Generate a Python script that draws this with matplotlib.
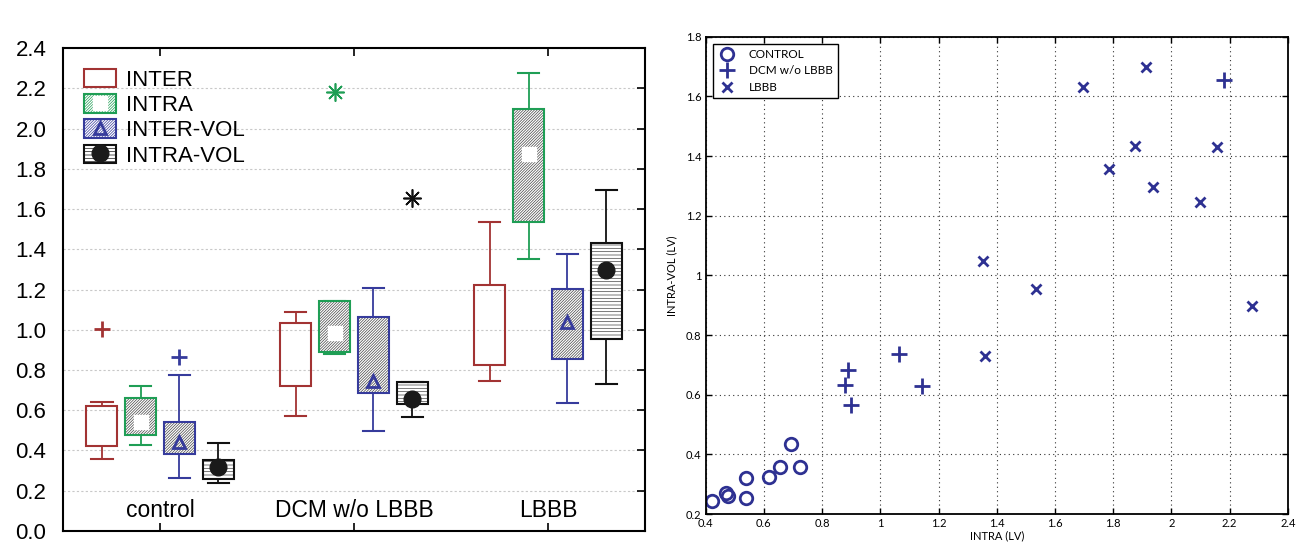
import matplotlib
matplotlib.use("Agg")
import matplotlib.pyplot as plt
from matplotlib.patches import Patch
from matplotlib.lines import Line2D

# ---- left panel data: box plot statistics ----
groups = ["control", "DCM w/o LBBB", "LBBB"]
series = ["INTER", "INTRA", "INTER-VOL", "INTRA-VOL"]

whislo = {
    "INTER":     [0.356, 0.573, 0.744],
    "INTRA":     [0.426, 0.880, 1.352],
    "INTER-VOL": [0.262, 0.497, 0.635],
    "INTRA-VOL": [0.240, 0.568, 0.732],
}
q1 = {
    "INTER":     [0.424, 0.720, 0.827],
    "INTRA":     [0.476, 0.888, 1.534],
    "INTER-VOL": [0.383, 0.686, 0.853],
    "INTRA-VOL": [0.260, 0.630, 0.953],
}
q3 = {
    "INTER":     [0.623, 1.032, 1.221],
    "INTRA":     [0.659, 1.145, 2.095],
    "INTER-VOL": [0.543, 1.065, 1.201],
    "INTRA-VOL": [0.354, 0.739, 1.433],
}
whishi = {
    "INTER":     [0.640, 1.087, 1.537],
    "INTRA":     [0.722, 1.145, 2.276],
    "INTER-VOL": [0.777, 1.207, 1.375],
    "INTRA-VOL": [0.436, 0.739, 1.694],
}
means = {
    "INTER":     [None, None, None],
    "INTRA":     [0.540, 0.984, 1.875],
    "INTER-VOL": [0.444, 0.745, 1.040],
    "INTRA-VOL": [0.320, 0.654, 1.295],
}
outliers = {
    "INTER":     [[1.004], [], []],
    "INTRA":     [[], [2.180], []],
    "INTER-VOL": [[0.866], [], []],
    "INTRA-VOL": [[], [1.653], []],
}

# ---- right panel data ----
control_x = [0.421, 0.470, 0.477, 0.540, 0.540, 0.618, 0.657, 0.692, 0.723]
control_y = [0.243, 0.271, 0.261, 0.322, 0.254, 0.323, 0.357, 0.436, 0.359]
dcm_x = [0.888, 0.879, 0.901, 1.066, 1.144, 2.182]
dcm_y = [0.684, 0.632, 0.567, 0.738, 0.629, 1.656]
lbbb_x = [1.914, 1.695, 1.874, 2.157, 1.784, 1.938, 2.097, 1.536, 2.277, 1.353, 1.361]
lbbb_y = [1.697, 1.630, 1.435, 1.430, 1.356, 1.297, 1.246, 0.953, 0.897, 1.047, 0.730]

colors = {"INTER": "#a23333", "INTRA": "#1f9e55", "INTER-VOL": "#363b9c", "INTRA-VOL": "#111111"}
hatches = {"INTER": None, "INTRA": "////////////", "INTER-VOL": "////////////", "INTRA-VOL": "-----"}
mean_style = {
    "INTER": None,
    "INTRA": dict(marker="s", markersize=10, markerfacecolor="white", markeredgecolor="white"),
    "INTER-VOL": dict(marker="^", markersize=9, markerfacecolor="none",
                      markeredgecolor="#363b9c", markeredgewidth=2),
    "INTRA-VOL": dict(marker="o", markersize=12, markerfacecolor="#1a1a1a", markeredgecolor="#1a1a1a"),
}
scatter_color = "#2e3192"

plt.rcParams["hatch.linewidth"] = 0.5
plt.rcParams["font.family"] = ["Liberation Sans", "DejaVu Sans"]

fig = plt.figure(figsize=(12.97, 5.46), dpi=100)
ax = fig.add_axes([0.0486, 0.0275, 0.4487, 0.8845])
ax2 = fig.add_axes([0.544, 0.0586, 0.449, 0.8742])

# ---------------- left panel ----------------
offsets = [-0.3, -0.1, 0.1, 0.3]
box_w = 0.16
for s, off in zip(series, offsets):
    pos = [i + 1 + off for i in range(len(groups))]
    stats = []
    for i in range(len(groups)):
        stats.append(dict(med=q1[s][i], q1=q1[s][i], q3=q3[s][i], whislo=whislo[s][i],
                          whishi=whishi[s][i], fliers=outliers[s][i]))
    c = colors[s]
    if hatches[s]:
        heights = [q3[s][i] - q1[s][i] for i in range(len(groups))]
        ax.bar(pos, heights, bottom=q1[s], width=box_w, color="white",
               edgecolor="#444444", hatch=hatches[s], linewidth=0, zorder=2)
    art = ax.bxp(stats, positions=pos, widths=box_w, capwidths=0.11, patch_artist=True,
                 boxprops=dict(facecolor="none", edgecolor=c, linewidth=1.5),
                 whiskerprops=dict(color=c, linewidth=1.3),
                 capprops=dict(color=c, linewidth=1.5),
                 medianprops=dict(linewidth=0),
                 flierprops=dict(marker="+", markersize=12, markeredgewidth=2, markeredgecolor=c),
                 manage_ticks=False, zorder=3)
    for i, fl in enumerate(art["fliers"]):
        if i == 1:
            fl.set_marker((8, 2, 0))
            fl.set_markersize(13)
            fl.set_markeredgewidth(1.2)
    if mean_style[s]:
        ax.plot(pos, means[s], linestyle="none", zorder=4, **mean_style[s])

ax.set_xlim(0.5, 3.5)
ax.set_ylim(0, 2.4)
ax.set_yticks([0.2 * k for k in range(13)])
ax.set_yticklabels([f"{0.2 * k:.1f}" for k in range(13)], fontsize=16)
ax.set_xticks([1, 2, 3])
ax.set_xticklabels([])
ax.tick_params(axis="y", left=False, right=True, direction="in", length=6, width=1.2, pad=12)
ax.tick_params(axis="x", top=True, bottom=True, direction="in", length=6, width=1.2)
ax.yaxis.grid(True, linestyle=(0, (2, 2)), color="#c8c8c8", linewidth=0.8)
ax.set_axisbelow(True)
for sp in ax.spines.values():
    sp.set_linewidth(1.5)
for i, g in enumerate(groups):
    ax.text(i + 1, 0.1, g, ha="center", va="center", fontsize=16.5)

handles = []
for s in series:
    p = Patch(facecolor="white", edgecolor=colors[s], hatch=hatches[s], linewidth=1.5)
    if mean_style[s]:
        handles.append((p, Line2D([], [], linestyle="none", **mean_style[s])))
    else:
        handles.append(p)
ax.legend(handles, series, loc="upper left", frameon=False, fontsize=16,
          bbox_to_anchor=(0.02, 0.975), handlelength=1.45, handleheight=0.9,
          handletextpad=0.45, labelspacing=0.15, borderaxespad=0)

# ---------------- right panel ----------------
ax2.plot(control_x, control_y, linestyle="none", marker="o", markersize=9,
         markerfacecolor="none", markeredgecolor=scatter_color, markeredgewidth=2, label="CONTROL")
ax2.plot(dcm_x, dcm_y, linestyle="none", marker="+", markersize=11,
         markeredgecolor=scatter_color, markeredgewidth=2, label="DCM w/o LBBB")
ax2.plot(lbbb_x, lbbb_y, linestyle="none", marker="x", markersize=7,
         markeredgecolor=scatter_color, markeredgewidth=2, label="LBBB")
ax2.set_xlim(0.4, 2.4)
ax2.set_ylim(0.2, 1.8)
xt = [0.4 + 0.2 * k for k in range(11)]
yt = [0.2 + 0.2 * k for k in range(9)]
ax2.set_xticks(xt)
ax2.set_xticklabels([f"{v:g}" for v in [round(t, 1) for t in xt]], fontsize=8, family="Lato")
ax2.set_yticks(yt)
ax2.set_yticklabels([f"{v:g}" for v in [round(t, 1) for t in yt]], fontsize=8, family="Lato")
ax2.tick_params(direction="in", top=True, right=True, length=4, width=1, pad=3)
ax2.grid(True, linestyle=(0, (1, 3)), color="#333333", linewidth=0.8)
for sp in ax2.spines.values():
    sp.set_linewidth(1.3)
ax2.set_xlabel("INTRA (LV)", fontsize=8, family="Lato", labelpad=1)
ax2.set_ylabel("INTRA-VOL (LV)", fontsize=8, family="Lato", labelpad=6)
leg2 = ax2.legend(loc="upper left", prop={"family": "Lato", "size": 8.5},
                  fancybox=False, framealpha=1, edgecolor="black", borderaxespad=0.6,
                  handletextpad=1.0, labelspacing=0.45, borderpad=0.45, handlelength=1.6)
leg2.get_frame().set_linewidth(1.0)

fig.savefig("out.png", dpi=100)
